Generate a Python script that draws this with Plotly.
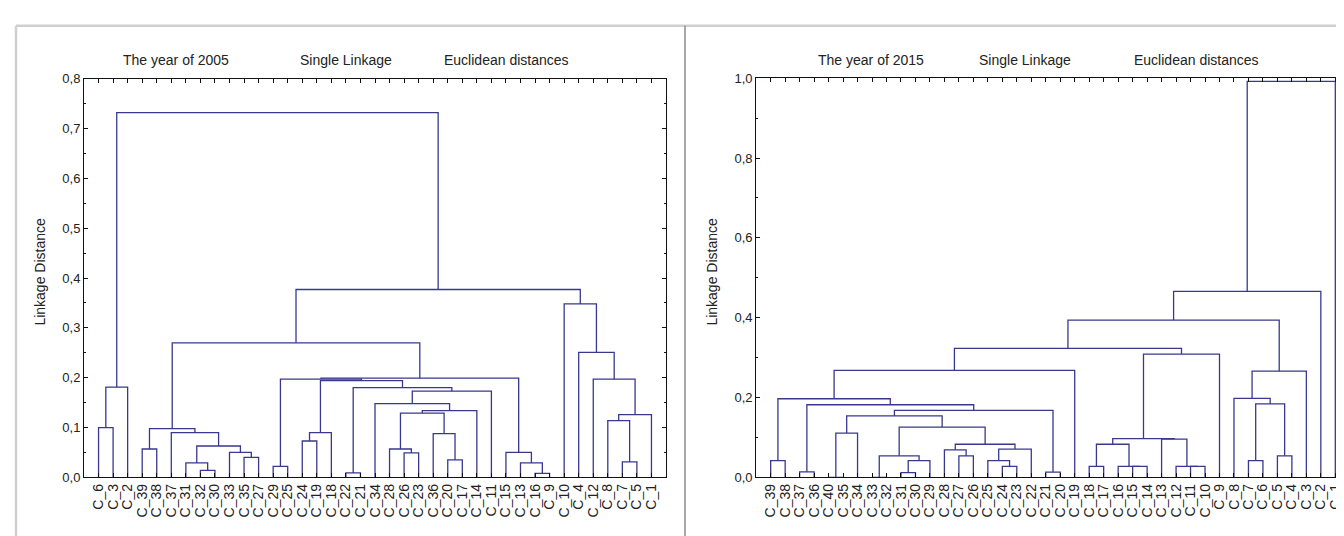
import plotly.graph_objects as go

# ---------------- data: 2005 ----------------
leaves_2005 = ["C_6", "C_3", "C_2", "C_39", "C_38", "C_37", "C_31", "C_32", "C_30", "C_33",
               "C_35", "C_27", "C_29", "C_25", "C_24", "C_19", "C_18", "C_22", "C_21", "C_34",
               "C_28", "C_26", "C_23", "C_36", "C_20", "C_17", "C_14", "C_11", "C_15", "C_13",
               "C_16", "C_9", "C_10", "C_4", "C_12", "C_8", "C_7", "C_5", "C_1"]
merge_id_2005 = ["a1", "a2", "b1", "b2", "b3", "b4", "b5", "b6", "b7", "L1",
                 "c1", "c2", "c3", "c4", "c5", "c6", "c7", "c8", "c9", "c10",
                 "c11", "c12", "c13", "c14", "c15", "d1", "d2", "d3", "M", "N",
                 "e1", "e2", "e3", "e4", "e5", "e6", "P", "R"]
merge_left_2005 = ["C_6", "a1", "C_39", "C_32", "C_31", "C_35", "C_33", "b3", "C_37", "b1",
                   "C_29", "C_24", "c2", "C_22", "C_26", "C_28", "C_20", "C_36", "c6", "c9",
                   "C_34", "c11", "c4", "c3", "c1", "C_16", "C_13", "C_15", "c15", "L1",
                   "C_7", "C_8", "e2", "C_12", "C_4", "C_10", "N", "a2"]
merge_right_2005 = ["C_3", "C_2", "C_38", "C_30", "b2", "C_27", "b4", "b5", "b6", "b7",
                    "C_25", "C_19", "C_18", "C_21", "C_23", "c5", "C_17", "c7", "c8", "C_14",
                    "c10", "C_11", "c12", "c13", "c14", "C_9", "d1", "d2", "d3", "M",
                    "C_5", "e1", "C_1", "e3", "e4", "e5", "e6", "P"]
merge_height_2005 = [0.100, 0.181, 0.057, 0.014, 0.029, 0.040, 0.050, 0.063, 0.090, 0.098,
                     0.022, 0.073, 0.090, 0.009, 0.049, 0.057, 0.035, 0.088, 0.129, 0.134,
                     0.148, 0.173, 0.180, 0.194, 0.197, 0.008, 0.029, 0.050, 0.199, 0.270,
                     0.031, 0.114, 0.126, 0.197, 0.251, 0.348, 0.377, 0.732]

# ---------------- data: 2015 ----------------
leaves_2015 = ["C_39", "C_38", "C_37", "C_36", "C_40", "C_35", "C_34", "C_33", "C_32", "C_31",
               "C_30", "C_29", "C_28", "C_27", "C_26", "C_25", "C_24", "C_23", "C_22", "C_21",
               "C_20", "C_19", "C_18", "C_17", "C_16", "C_15", "C_14", "C_13", "C_12", "C_11",
               "C_10", "C_9", "C_8", "C_7", "C_6", "C_5", "C_4", "C_3", "C_2", "C_1"]
merge_id_2015 = ["r1", "r2", "r3", "r4", "r5", "r6", "r7", "r8", "r9", "r10",
                 "r11", "r12", "r13", "r14", "r15", "r16", "r17", "r18", "r19", "r20",
                 "r21", "r22", "r23", "r24", "r25", "r26", "r27", "r28", "r29", "r30",
                 "r31", "r32", "r33", "r34", "r35", "r36", "r37", "r38", "r39"]
merge_left_2015 = ["C_39", "C_37", "C_40", "r3", "C_33", "C_31", "r6", "r5", "C_27", "C_28",
                   "C_24", "C_25", "r12", "r10", "r8", "r4", "C_21", "r16", "r2", "r1",
                   "r20", "C_18", "C_15", "C_16", "r22", "C_11", "C_12", "C_13", "r25", "r29",
                   "r21", "C_7", "C_5", "r32", "C_8", "r35", "r31", "r37", "r38"]
merge_right_2015 = ["C_38", "C_36", "C_35", "C_34", "C_32", "C_30", "C_29", "r7", "C_26", "r9",
                    "C_23", "r11", "C_22", "r13", "r14", "r15", "C_20", "r17", "r18", "r19",
                    "C_19", "C_17", "C_14", "r23", "r24", "C_10", "r26", "r27", "r28", "C_9",
                    "r30", "C_6", "C_4", "r33", "r34", "C_3", "r36", "C_2", "C_1"]
merge_height_2015 = [0.042, 0.014, 0.000, 0.111, 0.000, 0.012, 0.042, 0.054, 0.054, 0.069,
                     0.0275, 0.042, 0.071, 0.083, 0.126, 0.154, 0.013, 0.168, 0.182, 0.197,
                     0.268, 0.0275, 0.0275, 0.0277, 0.083, 0.0275, 0.0277, 0.096, 0.097, 0.309,
                     0.323, 0.042, 0.054, 0.184, 0.198, 0.266, 0.394, 0.466, 0.992]

titles_2005 = ["The year of 2005", "Single Linkage", "Euclidean distances"]
titles_2015 = ["The year of 2015", "Single Linkage", "Euclidean distances"]
y_title = "Linkage Distance"


def dendro_xy(leaves, ids, lefts, rights, heights):
    pos = {name: float(i + 1) for i, name in enumerate(leaves)}
    hgt = {name: 0.0 for name in leaves}
    xs, ys = [], []
    for mid, a, b, h in zip(ids, lefts, rights, heights):
        xa, ha, xb, hb = pos[a], hgt[a], pos[b], hgt[b]
        xs += [xa, xa, xb, xb, None]
        ys += [ha, h, h, hb, None]
        pos[mid] = (xa + xb) / 2.0
        hgt[mid] = h
    return xs, ys


LINE = "#38388f"
FONT = "Liberation Sans, Arial, sans-serif"
TXT = "#222222"

x1, y1 = dendro_xy(leaves_2005, merge_id_2005, merge_left_2005, merge_right_2005, merge_height_2005)
x2, y2 = dendro_xy(leaves_2015, merge_id_2015, merge_left_2015, merge_right_2015, merge_height_2015)

fig = go.Figure()
fig.add_trace(go.Scatter(x=x1, y=y1, mode="lines", line=dict(color=LINE, width=1.3),
                         xaxis="x", yaxis="y", showlegend=False, hoverinfo="skip"))
fig.add_trace(go.Scatter(x=x2, y=y2, mode="lines", line=dict(color=LINE, width=1.3),
                         xaxis="x2", yaxis="y2", showlegend=False, hoverinfo="skip"))

W, H = 1344, 536


def px(v):
    return v / W


def py(v):
    return 1 - v / H


common_x = dict(showline=True, linecolor="#111", linewidth=1, mirror="ticks", ticks="inside",
                ticklen=4, tickcolor="#111", tickangle=-90, showgrid=False, zeroline=False,
                tickfont=dict(family=FONT, size=14, color=TXT), fixedrange=True)
common_y = dict(showline=True, linecolor="#111", linewidth=1, mirror="ticks", ticks="inside",
                ticklen=4, tickcolor="#111", showgrid=False, zeroline=False, tickformat=".1f",
                tickfont=dict(family=FONT, size=13, color=TXT), fixedrange=True)

fig.update_layout(
    width=W, height=H, margin=dict(l=0, r=0, t=0, b=0),
    paper_bgcolor="white", plot_bgcolor="white", separators=", ",
    xaxis=dict(common_x, domain=[px(76), px(658)], range=[0, len(leaves_2005) + 1],
               tickvals=list(range(1, len(leaves_2005) + 1)), ticktext=leaves_2005, anchor="y"),
    yaxis=dict(common_y, domain=[py(475.7), py(65.5)], range=[0, 0.8], dtick=0.1, anchor="x",
               minor=dict(ticks="inside", ticklen=2, dtick=0.05, tickcolor="#111")),
    xaxis2=dict(common_x, domain=[px(748.2), px(1341.8)], range=[0, len(leaves_2015) + 1],
                tickvals=list(range(1, len(leaves_2015) + 1)), ticktext=leaves_2015, anchor="y2"),
    yaxis2=dict(common_y, domain=[py(475.7), py(65)], range=[0, 1.0], dtick=0.2, anchor="x2",
                minor=dict(ticks="inside", ticklen=2, dtick=0.1, tickcolor="#111")),
)

ann = []
for txt, xc in zip(titles_2005, [168, 338, 498]):
    ann.append(dict(text=txt, x=px(xc), y=py(46), xref="paper", yref="paper", showarrow=False,
                    xanchor="center", yanchor="middle",
                    font=dict(family=FONT, size=14, color=TXT)))
for txt, xc in zip(titles_2015, [863, 1017, 1188]):
    ann.append(dict(text=txt, x=px(xc), y=py(46), xref="paper", yref="paper", showarrow=False,
                    xanchor="center", yanchor="middle",
                    font=dict(family=FONT, size=14, color=TXT)))
for xc in [32, 704]:
    ann.append(dict(text=y_title, x=px(xc), y=py(264), xref="paper", yref="paper", showarrow=False,
                    xanchor="center", yanchor="middle", textangle=-90,
                    font=dict(family=FONT, size=14, color=TXT)))
fig.update_layout(annotations=ann)

shapes = [
    dict(type="line", xref="paper", yref="paper", x0=px(8), x1=1, y0=py(11), y1=py(11),
         line=dict(color="#cfcfcf", width=2.5)),
    dict(type="line", xref="paper", yref="paper", x0=px(8), x1=px(8), y0=py(11), y1=0,
         line=dict(color="#cfcfcf", width=2.5)),
    dict(type="line", xref="paper", yref="paper", x0=px(677), x1=px(677), y0=py(11), y1=0,
         line=dict(color="#8a8a8a", width=1.5)),
]
fig.update_layout(shapes=shapes)

fig.write_html("out.html")
